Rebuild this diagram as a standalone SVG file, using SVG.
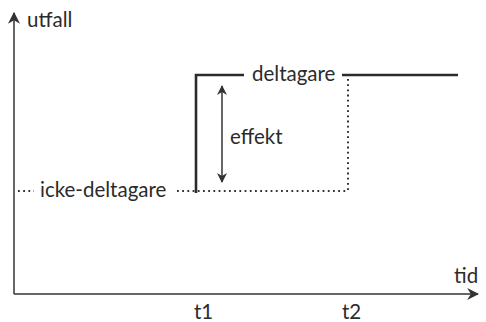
<svg xmlns="http://www.w3.org/2000/svg" width="486" height="322" viewBox="0 0 486 322">
<style>
text{font-family:Lato,"Open Sans","Liberation Sans",sans-serif;font-size:20.5px;fill:#2b2b2b}
.axis{stroke:#333;stroke-width:1.5;fill:none}
.solid{stroke:#2b2b2b;stroke-width:2.6;fill:none}
.dot{stroke:#333;stroke-width:2;fill:none;stroke-dasharray:1.8 3.4}
</style>
<defs>
<marker id="ah" viewBox="0 0 10 10" refX="9" refY="5" markerWidth="10" markerHeight="10" markerUnits="userSpaceOnUse" orient="auto-start-reverse">
<path d="M0,0 L10,5 L0,10 L3,5 Z" fill="#333"/>
</marker>
<marker id="ax" viewBox="0 0 10 10" refX="9" refY="5" markerWidth="12" markerHeight="12" markerUnits="userSpaceOnUse" orient="auto">
<path d="M0,0 L10,5 L0,10 L3,5 Z" fill="#333"/>
</marker>
</defs>
<g id="axes">
<line class="axis" x1="14" y1="294" x2="14" y2="13" marker-end="url(#ax)"/>
<line class="axis" x1="14" y1="294" x2="478" y2="294" marker-end="url(#ax)"/>
<text x="27" y="27">utfall</text>
<text x="454" y="283">tid</text>
<text x="194" y="319">t1</text>
<text x="342" y="319">t2</text>
</g>
<g id="connectors">
<polyline class="solid" points="196,193 196,75 244,75"/>
<line class="solid" x1="342" y1="75" x2="458" y2="75"/>
<line class="dot" x1="348" y1="79" x2="348" y2="191"/>
<line class="dot" x1="177" y1="191" x2="348" y2="191"/>
<line class="dot" x1="18" y1="191" x2="34" y2="191"/>
<line class="axis" x1="222" y1="86" x2="222" y2="182" marker-start="url(#ah)" marker-end="url(#ah)"/>
</g>
<g id="deltagare"><text x="252" y="81">deltagare</text></g>
<g id="icke-deltagare"><text x="40" y="197">icke-deltagare</text></g>
<g id="effekt"><text x="230" y="144">effekt</text></g>
</svg>
